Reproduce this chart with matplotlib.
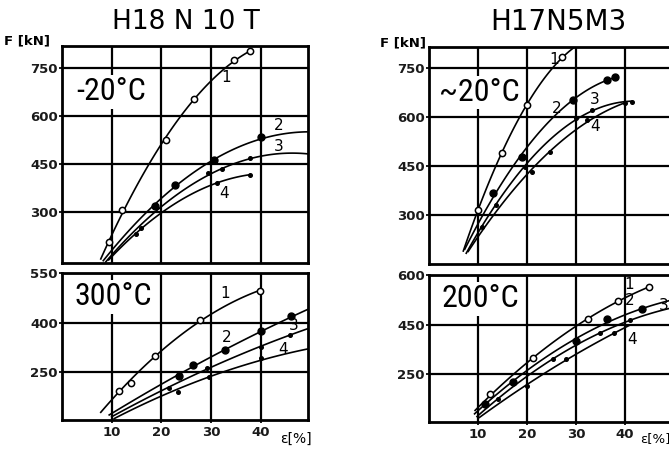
import numpy as np
import matplotlib
matplotlib.use("Agg")
from matplotlib import pyplot as plt
from matplotlib import font_manager

# strain [%] / force [kN] read per panel; curves 1..4 in each list
# "mark" = plotted symbols, "trace" = extra points of the drawn curve (no symbol)

# H18 N 10 T, -20 C
ul_mark_x = [[9.5, 12.1, 21.0, 26.5, 34.6, 37.9],
             [18.8, 22.8, 30.5, 40.1],
             [15.8, 29.4, 32.1, 37.8],
             [14.8, 31.1, 37.8]]
ul_mark_y = [[207, 306, 527, 655, 775, 803],
             [318, 384, 462, 535],
             [250, 422, 436, 468],
             [232, 392, 416]]
ul_trace_x = [[7.8], [8.3, 49.4], [8.8, 20.0, 49.4], [9.4, 20.0]]
ul_trace_y = [[150], [150, 548], [150, 312, 480], [150, 296]]

# H18 N 10 T, 300 C
ll_mark_x = [[11.5, 13.8, 18.8, 27.8, 39.8],
             [23.5, 26.3, 32.8, 40.1, 46.1],
             [21.5, 29.1, 40.1, 45.8],
             [23.3, 29.5, 40.1]]
ll_mark_y = [[194, 218, 298, 409, 496],
             [238, 271, 316, 374, 421],
             [203, 262, 326, 362],
             [191, 236, 294]]
ll_trace_x = [[7.8], [9.5, 49.4], [10.0, 49.4], [10.5, 49.4]]
ll_trace_y = [[131], [121, 436], [115, 382], [112, 316]]

# H17N5M3, -20 C
ur_mark_x = [[10.1, 14.8, 19.9, 27.1],
             [13.1, 18.9, 29.4, 36.3, 38.0],
             [13.6, 19.6, 30.1, 33.2, 41.4],
             [10.8, 21.0, 24.7, 32.2, 40.0]]
ur_mark_y = [[315, 489, 637, 785],
             [367, 479, 652, 713, 723],
             [330, 448, 596, 621, 647],
             [264, 433, 494, 591, 642]]
ur_trace_x = [[7.0, 30.5], [7.3], [7.6], [8.0]]
ur_trace_y = [[193, 820], [190], [185], [180]]

# H17N5M3, 200 C
lr_mark_x = [[12.4, 21.3, 32.5, 38.6, 44.9],
             [11.4, 17.2, 30.1, 36.3, 43.4],
             [14.0, 25.4, 34.9, 41.0],
             [20.0, 28.0, 37.7]]
lr_mark_y = [[240, 350, 467, 520, 565],
             [210, 277, 400, 467, 497],
             [225, 345, 425, 465],
             [265, 345, 425]]
lr_trace_x = [[9.4], [9.3, 49.8], [9.8, 49.8], [10.3, 40.8]]
lr_trace_y = [[185], [180, 523], [172, 500], [170, 445]]

x_ticks = [10, 20, 30, 40]
x_labels = ["10", "20", "30", "40"]
ul_ticks = [300, 450, 600, 750]
ul_labels = ["300", "450", "600", "750"]
ll_ticks = [250, 400, 550]
ll_labels = ["250", "400", "550"]
ur_ticks = [300, 450, 600, 750]
ur_labels = ["300", "450", "600", "750"]
lr_ticks = [300, 450, 600]
lr_labels = ["250", "450", "600"]

ul_numpos = [(33.0, 722), (43.6, 570), (43.6, 505), (32.6, 358)]
ll_numpos = [(32.8, 488), (33.1, 356), (46.6, 392), (44.4, 318)]
ur_numpos = [(25.6, 776), (26.0, 626), (33.9, 653), (33.9, 570)]
lr_numpos = [(40.8, 572), (41.0, 523), (47.8, 508), (41.4, 405)]


def pick_font(names):
    for n in names:
        try:
            font_manager.findfont(n, fallback_to_default=False)
            return n
        except Exception:
            pass
    return "DejaVu Sans"


narrow = pick_font(["Liberation Sans Narrow", "DejaVu Sans Condensed", "Roboto Condensed"])
plt.rcParams['font.family'] = 'DejaVu Sans'

styles = [dict(marker='o', ms=4.5, mfc='white', mec='black', mew=1.1),
          dict(marker='o', ms=5, mfc='black', mec='black'),
          dict(marker='o', ms=2.6, mfc='black', mec='black'),
          dict(marker='o', ms=2.6, mfc='black', mec='black')]


def draw_panel(ax, mx, my, tx, ty, xlim, ylim, yticks, ylabels, numpos, temp, temp_xy, bottom):
    ax.set_xlim(*xlim)
    ax.set_ylim(*ylim)
    ax.set_axisbelow(True)
    ax.grid(True, color='black', lw=1.6)
    ax.set_xticks(x_ticks)
    ax.set_yticks(yticks)
    ax.set_yticklabels(ylabels, fontweight='bold', fontsize=9.5)
    if bottom:
        ax.set_xticklabels(x_labels, fontweight='bold', fontsize=9.5)
    else:
        ax.set_xticklabels([])
    ax.tick_params(length=2.5, width=1.4, pad=0.5, colors='#1a1a1a')
    ax.tick_params(axis='x', pad=2, length=0 if not bottom else 2.5)
    for s in ax.spines.values():
        s.set_linewidth(2.0)
    for i in range(4):
        px = list(mx[i]) + list(tx[i])
        py = list(my[i]) + list(ty[i])
        # smooth trend through the read points
        coef = np.polyfit(px, py, 2)
        xs = np.linspace(min(px), max(px), 120)
        ax.plot(xs, np.polyval(coef, xs), color='black', lw=1.2, zorder=2)
        ax.plot(mx[i], my[i], ls='none', zorder=3, **styles[i])
        ax.text(numpos[i][0], numpos[i][1], str(i + 1), fontsize=11,
                ha='center', va='center', zorder=4)
    ax.text(temp_xy[0], temp_xy[1], temp, fontsize=23, family=narrow,
            ha='center', va='center', zorder=5,
            bbox=dict(fc='white', ec='none', pad=1.5))


W, H = 669, 450
fig = plt.figure(figsize=(W / 100, H / 100), dpi=100)


def box(left, top, right, bottom):
    return [left / W, 1 - bottom / H, (right - left) / W, (bottom - top) / H]


ax_ul = fig.add_axes(box(62, 46, 308, 263))
ax_ll = fig.add_axes(box(62, 273, 308, 420))
ax_ur = fig.add_axes(box(429, 47, 674, 264))
ax_lr = fig.add_axes(box(429, 275, 674, 422))

draw_panel(ax_ul, ul_mark_x, ul_mark_y, ul_trace_x, ul_trace_y, (0, 49.5), (140, 820),
           ul_ticks, ul_labels, ul_numpos, "-20°C", (9.8, 676), False)
draw_panel(ax_ll, ll_mark_x, ll_mark_y, ll_trace_x, ll_trace_y, (0, 49.5), (105, 550),
           ll_ticks, ll_labels, ll_numpos, "300°C", (10.4, 478), True)
draw_panel(ax_ur, ur_mark_x, ur_mark_y, ur_trace_x, ur_trace_y, (0, 50), (150, 815),
           ur_ticks, ur_labels, ur_numpos, "~20°C", (10.3, 676), False)
draw_panel(ax_lr, lr_mark_x, lr_mark_y, lr_trace_x, lr_trace_y, (0, 50), (155, 600),
           lr_ticks, lr_labels, lr_numpos, "200°C", (10.4, 528), True)

fig.text(186 / W, 1 - 22 / H, "H18 N 10 T", fontsize=19, ha='center', va='center')
fig.text(558 / W, 1 - 22 / H, "H17N5M3", fontsize=20, ha='center', va='center')
fig.text(4 / W, 1 - 41 / H, "F [kN]", fontsize=9.5, fontweight='bold', ha='left', va='center')
fig.text(380 / W, 1 - 43 / H, "F [kN]", fontsize=9.5, fontweight='bold', ha='left', va='center')
fig.text(280 / W, 1 - 439 / H, "ε[%]", fontsize=10, ha='left', va='center')
fig.text(640 / W, 1 - 439 / H, "ε[%]", fontsize=9.5, ha='left', va='center')

fig.savefig("out.png", dpi=100, facecolor='white')
